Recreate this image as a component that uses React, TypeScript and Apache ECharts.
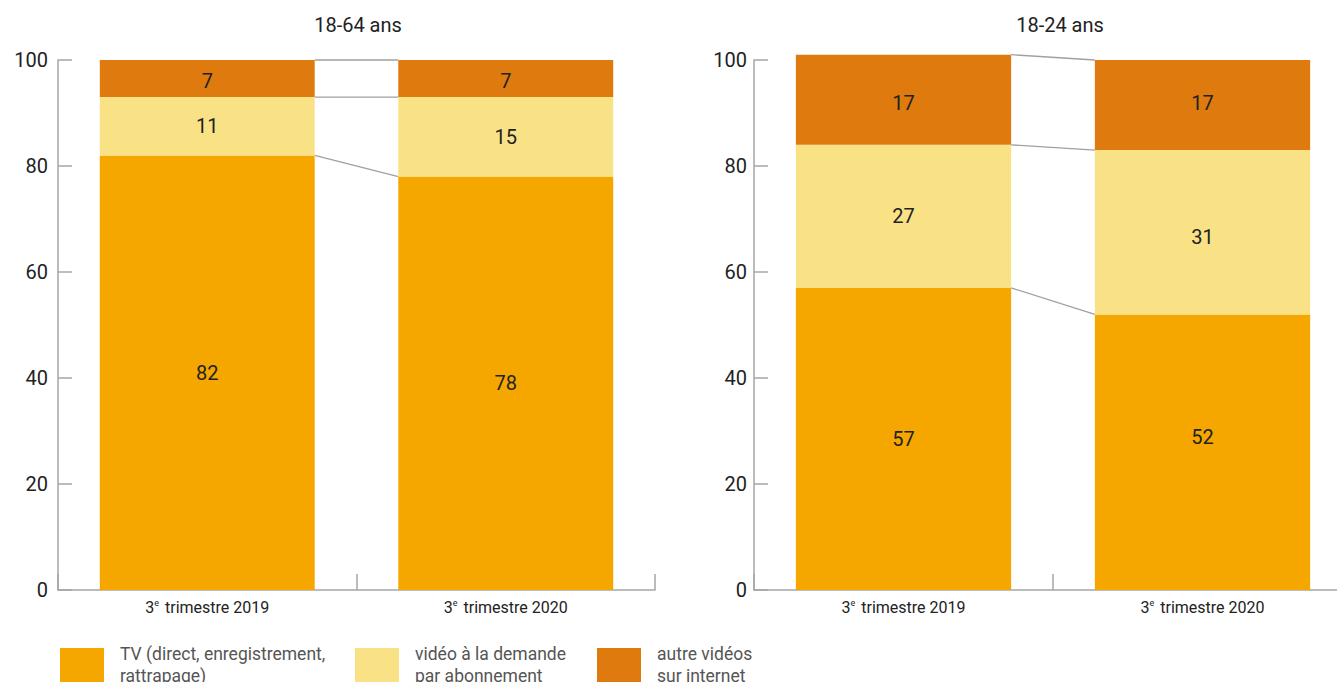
import React, { useEffect, useRef } from "react";
import * as echarts from "echarts";

const categories = ["2019", "2020"];
const seriesNames = [
  "TV (direct, enregistrement,\nrattrapage)",
  "vidéo à la demande\npar abonnement",
  "autre vidéos\nsur internet",
];
const panelTitles = ["18-64 ans", "18-24 ans"];
const tv1864 = [82, 78];
const svod1864 = [11, 15];
const other1864 = [7, 7];
const tv1824 = [57, 52];
const svod1824 = [27, 31];
const other1824 = [17, 17];

const colors = ["#F5A700", "#F9E185", "#DF7A0F"];
const FONT = "Roboto, 'Noto Sans', sans-serif";

const panels = [
  [tv1864, svod1864, other1864],
  [tv1824, svod1824, other1824],
];
// label vertical nudges (style only), [panel][series][category]
const labelNudge = [
  [[0, 0], [0, 0], [2, 2]],
  [[0, -15], [0, 5], [3, -2]],
];

function boundaries(stack: number[][]) {
  const out: number[][] = [];
  let c0 = 0;
  let c1 = 0;
  for (const s of stack) {
    c0 += s[0];
    c1 += s[1];
    out.push([0, c0, c1]);
  }
  return out;
}

export default function App() {
  const ref = useRef<HTMLDivElement>(null);
  useEffect(() => {
    if (!ref.current) return;
    const chart = echarts.init(ref.current, null, { renderer: "svg" });
    const axisColor = "#a6a6a6";
    const grids = [
      { left: 58, top: 60, width: 597, height: 530 },
      { left: 754, top: 60, width: 598, height: 530 },
    ];
    const xAxis = grids.map((_, i) => ({
      type: "category",
      gridIndex: i,
      data: categories,
      axisLine: { show: true, lineStyle: { color: axisColor, width: 1.5 } },
      axisTick: { show: true, inside: true, length: 16, lineStyle: { color: axisColor, width: 1.5 } },
      axisLabel: {
        margin: 8,
        formatter: (v: string) => `{n|3}{s|e}{n| trimestre ${v}}`,
        rich: {
          n: { fontSize: 16, color: "#222", fontFamily: FONT, lineHeight: 18 },
          s: { fontSize: 9, color: "#222", fontFamily: FONT, verticalAlign: "top", lineHeight: 18, padding: [0, 2, 7, 0] },
        },
      },
    }));
    const yAxis = grids.map((_, i) => ({
      type: "value",
      gridIndex: i,
      min: 0,
      max: 100,
      interval: 20,
      splitLine: { show: false },
      axisLine: { show: true, lineStyle: { color: axisColor, width: 1.5 } },
      axisTick: { show: true, inside: true, length: 14, lineStyle: { color: axisColor, width: 1.5 } },
      axisLabel: { margin: i === 0 ? 10 : 7, fontSize: 20, color: "#222", fontFamily: FONT },
    }));
    const series: any[] = [];
    panels.forEach((stack, g) => {
      stack.forEach((vals, k) => {
        series.push({
          type: "bar",
          name: seriesNames[k],
          xAxisIndex: g,
          yAxisIndex: g,
          stack: "s" + g,
          barWidth: "72%",
          clip: false,
          data: vals.map((v, c) => ({
            value: v,
            label: { offset: [0, labelNudge[g][k][c]] },
          })),
          itemStyle: { color: colors[k] },
          label: { show: true, position: "inside", fontSize: 20, color: "#222", fontFamily: FONT },
        });
      });
      series.push({
        type: "custom",
        xAxisIndex: g,
        yAxisIndex: g,
        clip: false,
        silent: true,
        encode: { x: 0, y: [1, 2] },
        data: boundaries(stack),
        renderItem: (params: any, api: any) => {
          const a = api.coord([0, api.value(1)]);
          const b = api.coord([1, api.value(2)]);
          const half = api.size([1, 0])[0] * 0.36;
          return {
            type: "line",
            shape: { x1: a[0] + half, y1: a[1], x2: b[0] - half, y2: b[1] },
            style: { stroke: "#a0a0a0", lineWidth: 1.3 },
          };
        },
      });
    });
    const legendLefts = [60, 355, 597];
    const legend = seriesNames.map((n, i) => ({
      data: [n],
      left: legendLefts[i],
      top: 643,
      padding: 0,
      itemWidth: 44,
      itemHeight: 34,
      icon: "rect",
      selectedMode: false,
      textStyle: { fontSize: 17.5, lineHeight: 22, color: "#555", fontFamily: FONT, padding: [0, 0, 0, 11] },
    }));
    chart.setOption({
      animation: false,
      grid: grids,
      xAxis,
      yAxis,
      series,
      legend,
      graphic: panelTitles.map((t, i) => ({
        type: "text",
        x: i === 0 ? 358 : 1060,
        y: 25,
        style: { text: t, fontSize: 20, fill: "#222", fontFamily: FONT, align: "center", verticalAlign: "middle" },
      })),
    });
    return () => chart.dispose();
  }, []);
  return (
    <div
      ref={ref}
      style={{ position: "fixed", left: 0, top: 0, width: 1360, height: 682, background: "#fff" }}
    />
  );
}
